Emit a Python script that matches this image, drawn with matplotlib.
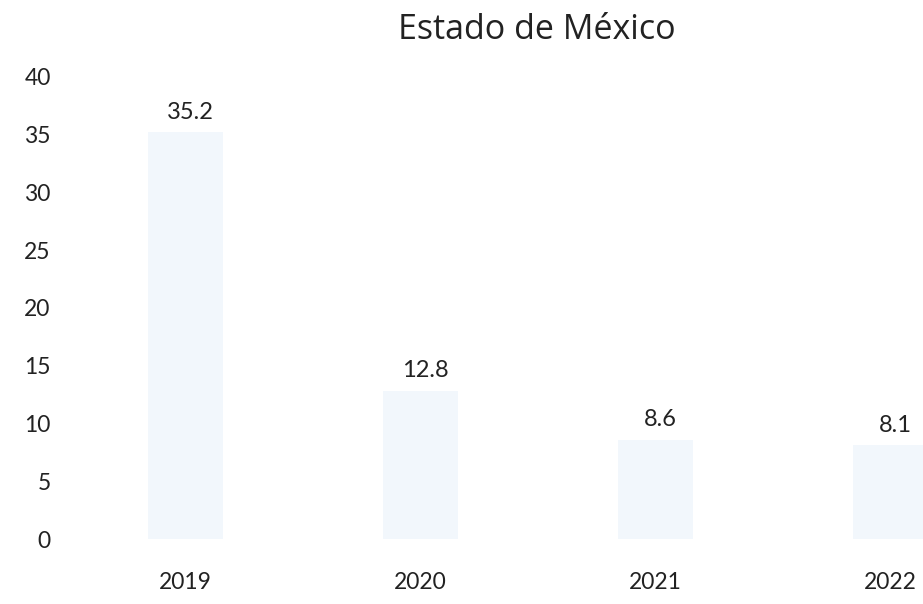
import matplotlib.pyplot as plt

# Datos
anios = ["2019", "2020", "2021", "2022"]
valores = [35.2, 12.8, 8.6, 8.1]
ticks_y = [0, 5, 10, 15, 20, 25, 30, 35, 40]

plt.rcParams["font.family"] = ["Lato", "DejaVu Sans"]

fig = plt.figure(figsize=(9.23, 6.04), dpi=100)
ax = fig.add_axes([0.076, 0.1076, 0.924, 0.765])

x = range(len(anios))
ax.bar(x, valores, width=0.32, color="#f2f7fc")

# Etiquetas de valores
for i, v in enumerate(valores):
    ax.annotate(f"{v}", (i, v), xytext=(4, 7), textcoords="offset points",
                ha="center", va="bottom", fontsize=17, color="#222222")

ax.set_xlim(-0.49, 3.14)
ax.set_ylim(0, 40)
ax.set_xticks(list(x))
ax.set_xticklabels(anios)
ax.set_yticks(ticks_y)
ax.tick_params(axis="both", length=0, labelsize=16.5, colors="#222222")
ax.tick_params(axis="x", pad=24)
ax.tick_params(axis="y", pad=14)

for s in ax.spines.values():
    s.set_visible(False)

fig.text(0.582, 0.935, "Estado de México", ha="center", va="baseline",
         fontsize=24.5, color="#222222", family="Open Sans")

fig.savefig("out.png", dpi=100, facecolor="white")
